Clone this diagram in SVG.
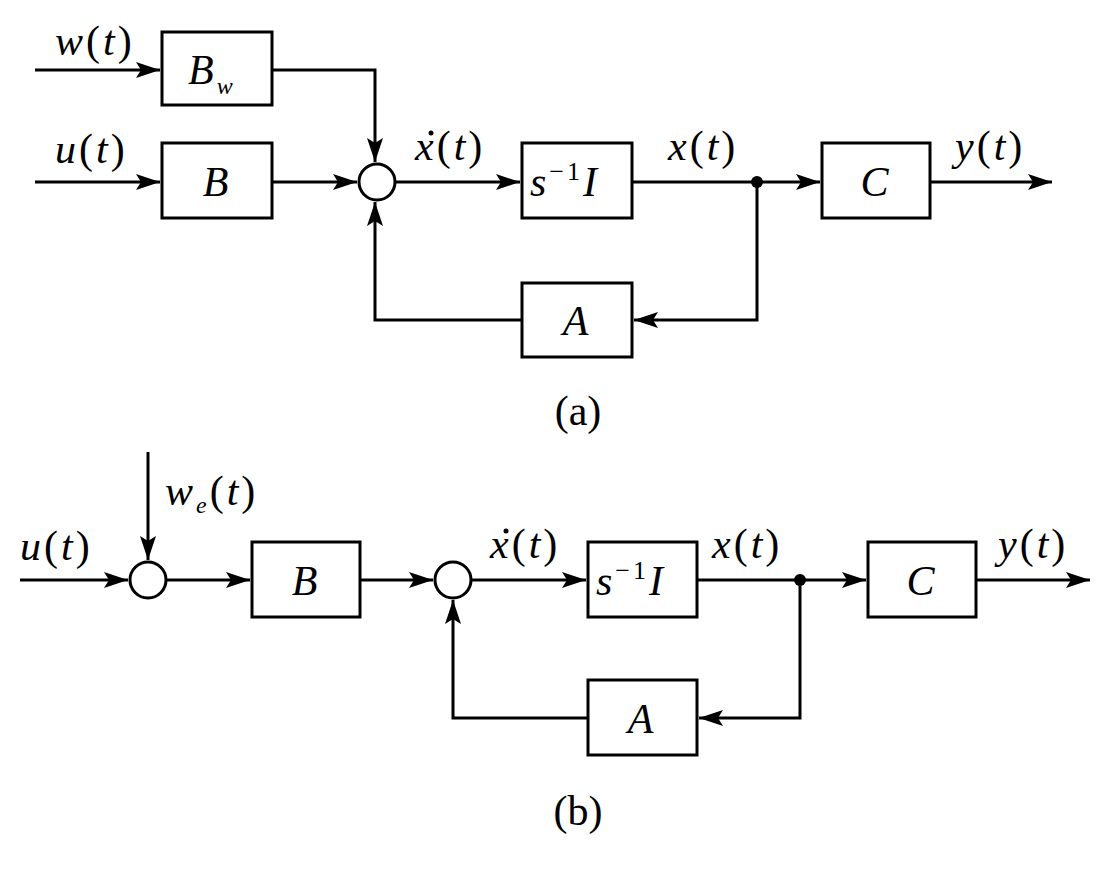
<svg xmlns="http://www.w3.org/2000/svg" width="1112" height="876" viewBox="0 0 1112 876">
<style>
.b{fill:#fff;stroke:#000;stroke-width:3}
.l{fill:none;stroke:#000;stroke-width:3}
.t{font-family:'Liberation Serif','DejaVu Serif','Times New Roman',serif;font-style:italic;font-size:42px;fill:#000;letter-spacing:3px}
.c{font-family:'Liberation Serif','DejaVu Serif','Times New Roman',serif;font-size:42px;fill:#000}
</style>
<defs>
<marker id="ab" markerWidth="24" markerHeight="16" refX="24" refY="8" orient="auto" markerUnits="userSpaceOnUse" viewBox="0 0 24 16"><path d="M0,0L24,8L0,16L5,8z"/></marker></defs>
<g id="connectors">
<path class="l" d="M35,70H160" marker-end="url(#ab)"/>
<path class="l" d="M272,70H375V162" marker-end="url(#ab)"/>
<path class="l" d="M35,182H160" marker-end="url(#ab)"/>
<path class="l" d="M272,182H357" marker-end="url(#ab)"/>
<path class="l" d="M395,182H520" marker-end="url(#ab)"/>
<path class="l" d="M632,182H820" marker-end="url(#ab)"/>
<path class="l" d="M930,182H1052" marker-end="url(#ab)"/>
<path class="l" d="M757,182V320H634" marker-end="url(#ab)"/>
<path class="l" d="M522,320H375V202" marker-end="url(#ab)"/>
<circle cx="757" cy="182" r="6"/>
<path class="l" d="M20,580H128" marker-end="url(#ab)"/>
<path class="l" d="M148,452V560" marker-end="url(#ab)"/>
<path class="l" d="M166,580H250" marker-end="url(#ab)"/>
<path class="l" d="M360,580H433" marker-end="url(#ab)"/>
<path class="l" d="M471,580H586" marker-end="url(#ab)"/>
<path class="l" d="M697,580H866" marker-end="url(#ab)"/>
<path class="l" d="M976,580H1090" marker-end="url(#ab)"/>
<path class="l" d="M800,580V718H699" marker-end="url(#ab)"/>
<path class="l" d="M588,718H453V600" marker-end="url(#ab)"/>
<circle cx="800" cy="580" r="6"/>
</g>
<g id="Bw"><rect class="b" x="162" y="32" width="110" height="73"/><text class="t" x="188" y="84">B<tspan font-size="24" dy="10">w</tspan></text></g>
<g id="Ba"><rect class="b" x="162" y="143" width="110" height="75"/><text class="t" x="217" y="196" text-anchor="middle">B</text></g>
<g id="sum1"><circle class="b" cx="377" cy="182" r="18"/></g>
<g id="Ia"><rect class="b" x="522" y="143" width="110" height="75"/><text class="t" x="530" y="196">s<tspan font-style="normal" font-size="26" dy="-16">−1</tspan><tspan dy="16">I</tspan></text></g>
<g id="Ca"><rect class="b" x="822" y="143" width="108" height="75"/><text class="t" x="876" y="196" text-anchor="middle">C</text></g>
<g id="Aa"><rect class="b" x="522" y="283" width="110" height="74"/><text class="t" x="577" y="335" text-anchor="middle">A</text></g>
<g id="labels-a">
<text class="t" x="55" y="55">w<tspan font-style="normal">(</tspan>t<tspan font-style="normal">)</tspan></text>
<text class="t" x="55" y="163">u<tspan font-style="normal">(</tspan>t<tspan font-style="normal">)</tspan></text>
<text class="t" x="415" y="160">x<tspan font-style="normal">(</tspan>t<tspan font-style="normal">)</tspan></text>
<text class="t" x="668" y="160">x<tspan font-style="normal">(</tspan>t<tspan font-style="normal">)</tspan></text>
<text class="t" x="955" y="160">y<tspan font-style="normal">(</tspan>t<tspan font-style="normal">)</tspan></text>
<text class="c" x="578" y="425" text-anchor="middle">(a)</text>
</g>
<circle cx="431" cy="133" r="2.5"/>
<g id="sum2"><circle class="b" cx="148" cy="580" r="18"/></g>
<g id="Bb"><rect class="b" x="252" y="542" width="108" height="75"/><text class="t" x="306" y="595" text-anchor="middle">B</text></g>
<g id="sum3"><circle class="b" cx="453" cy="580" r="18"/></g>
<g id="Ib"><rect class="b" x="588" y="542" width="109" height="75"/><text class="t" x="596" y="595">s<tspan font-style="normal" font-size="26" dy="-16">−1</tspan><tspan dy="16">I</tspan></text></g>
<g id="Cb"><rect class="b" x="868" y="542" width="108" height="75"/><text class="t" x="922" y="595" text-anchor="middle">C</text></g>
<g id="Ab"><rect class="b" x="588" y="680" width="109" height="75"/><text class="t" x="642" y="733" text-anchor="middle">A</text></g>
<g id="labels-b">
<text class="t" x="20" y="560">u<tspan font-style="normal">(</tspan>t<tspan font-style="normal">)</tspan></text>
<text class="t" x="165" y="505">w<tspan font-size="24" dy="8">e</tspan><tspan font-style="normal" dy="-8">(</tspan>t<tspan font-style="normal">)</tspan></text>
<text class="t" x="490" y="558">x<tspan font-style="normal">(</tspan>t<tspan font-style="normal">)</tspan></text>
<text class="t" x="712" y="558">x<tspan font-style="normal">(</tspan>t<tspan font-style="normal">)</tspan></text>
<text class="t" x="998" y="558">y<tspan font-style="normal">(</tspan>t<tspan font-style="normal">)</tspan></text>
<text class="c" x="578" y="825" text-anchor="middle">(b)</text>
</g>
<circle cx="506" cy="531" r="2.5"/>
</svg>
